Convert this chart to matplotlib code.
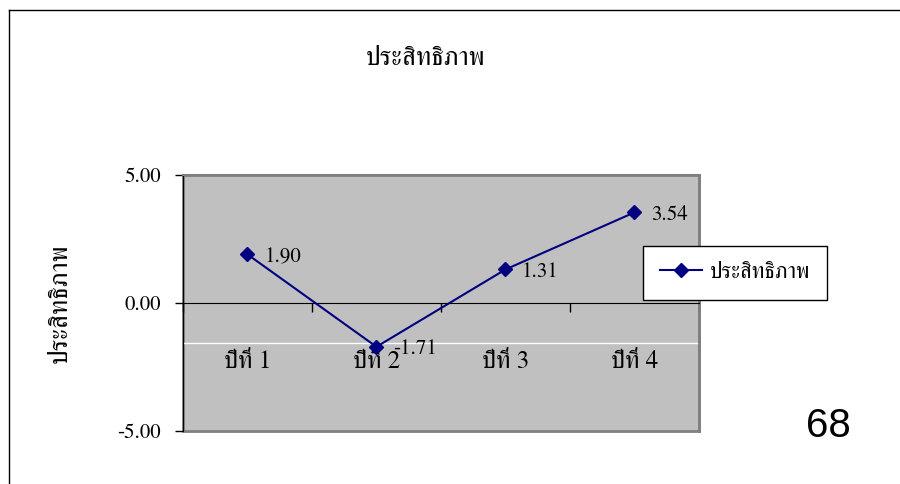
import matplotlib
matplotlib.use("Agg")
import matplotlib.pyplot as plt
from matplotlib.patches import Rectangle

# data
years = ['ปีที่ 1', 'ปีที่ 2', 'ปีที่ 3', 'ปีที่ 4']
efficiency = [1.90, -1.71, 1.31, 3.54]
series_name = 'ประสิทธิภาพ'
title = 'ประสิทธิภาพ'
y_label = 'ประสิทธิภาพ'
y_ticks = [-5.0, 0.0, 5.0]
page_number = '68'

serif = ['FreeSerif', 'DejaVu Serif']
x = list(range(1, len(years) + 1))

fig = plt.figure(figsize=(9, 4.84), dpi=100)
ax = fig.add_axes([0.2033, 0.1095, 0.5733, 0.5289])
ax.set_facecolor('#C0C0C0')

# white line across the plot (artifact in the original)
ax.axhline(-1.56, color='white', lw=1, zorder=1)

line, = ax.plot(x, efficiency, color='#000080', lw=1.5, marker='D', markersize=7.5,
                label=series_name, zorder=3)
for xi, v in zip(x, efficiency):
    ax.annotate(f'{v:.2f}', (xi, v), xytext=(12, -2), textcoords='offset points',
                ha='left', va='center', fontsize=15, family=serif)

ax.set_xlim(0.5, len(years) + 0.5)
ax.set_ylim(-5, 5)
ax.set_yticks(y_ticks)
ax.set_yticklabels([f'{t:.2f}' for t in y_ticks], family=serif, fontsize=15)
ax.tick_params(axis='y', direction='out', length=6, width=1, pad=10)

# x axis crosses at zero
ax.spines['bottom'].set_position(('data', 0))
ax.spines['bottom'].set_color('black')
ax.spines['left'].set_color('black')
ax.spines['top'].set_color('#808080')
ax.spines['right'].set_color('#808080')
ax.spines['top'].set_linewidth(1.5)
ax.spines['right'].set_linewidth(2)
ax.add_patch(Rectangle((0, 0), 1, 1, transform=ax.transAxes, fill=False,
                       edgecolor='#808080', lw=2, clip_on=False, zorder=0.5))

ax.set_xticks(x)
ax.set_xticklabels(years, family=serif, fontsize=18)
ax.tick_params(axis='x', which='major', length=0, pad=34)
ax.set_xticks([i + 0.5 for i in range(len(years) + 1)], minor=True)
ax.tick_params(axis='x', which='minor', direction='out', length=6.5, width=1, color='black')

ax.set_ylabel(y_label, family=serif, fontsize=19, labelpad=32)

fig.text(0.473, 0.878, title, ha='center', va='center', family=serif, fontsize=19)

leg = ax.legend(loc='upper left', bbox_to_anchor=(0.892, 0.723), prop={'family': serif, 'size': 16},
                frameon=True, fancybox=False, edgecolor='black', facecolor='white', framealpha=1,
                borderpad=0.75, handlelength=1.9, handletextpad=0.35, borderaxespad=0)
leg.get_frame().set_linewidth(1)

fig.text(0.92, 0.12, page_number, ha='center', va='center', fontsize=29, family='Liberation Sans')

# page frame lines (top and left)
fig.add_artist(plt.Line2D([0.01, 1.0], [0.979, 0.979], color='black', lw=1, transform=fig.transFigure))
fig.add_artist(plt.Line2D([0.01, 0.01], [0.0, 0.979], color='black', lw=1, transform=fig.transFigure))

fig.savefig('out.png', dpi=100)
